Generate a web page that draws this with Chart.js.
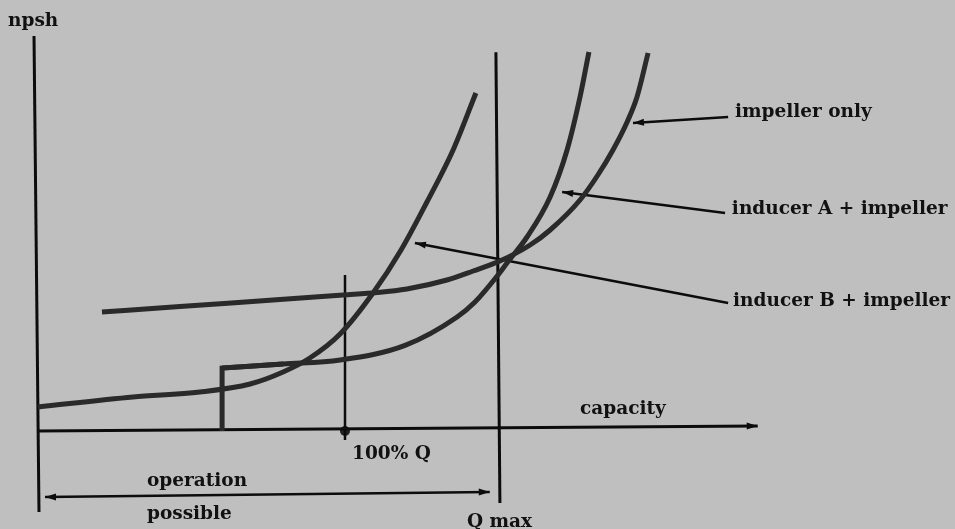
<!DOCTYPE html>
<html><head><meta charset="utf-8">
<script src="https://cdn.jsdelivr.net/npm/chart.js@4/dist/chart.umd.min.js"></script>
<style>html,body{margin:0;padding:0;background:#bfbfbf;}canvas{display:block;}</style>
</head><body>
<canvas id="c" width="955" height="529"></canvas>
<script>
// capacity in % of design flow (100% Q = design point), npsh in relative units
const capImpellerOnly  = [21.1, 46.4, 78.9, 99.4, 110.4, 120.1, 133.1, 141.6, 150.3, 160.1, 166.6, 176.3, 182.1, 187.0, 191.6, 194.8, 198.4];
const npshImpellerOnly = [29.75, 31.1, 32.9, 34.0, 34.6, 35.5, 37.75, 40.0, 42.5, 46.5, 50.25, 57.75, 64.0, 70.25, 77.25, 83.5, 94.5];

const capInducerA  = [60.1, 79.9, 98.4, 119.5, 136.4, 142.2, 149.4, 152.6, 159.1, 166.6, 172.1, 176.3, 179.2];
const npshInducerA = [15.75, 16.75, 17.75, 21.4, 28.5, 32.25, 38.75, 42.0, 48.5, 58.5, 70.25, 83.5, 94.75];

const capInducerB  = [0.3, 31.2, 52.9, 69.2, 79.9, 88.6, 98.4, 109.1, 118.2, 126.6, 135.1, 142.5];
const npshInducerB = [6.0, 8.5, 9.75, 11.75, 14.75, 18.25, 24.25, 34.5, 45.25, 57.25, 70.25, 84.5];

const designQ = 100;   // 100% Q
const qMax = 150;      // Q max
const seriesNames = ['impeller only', 'inducer A + impeller', 'inducer B + impeller'];

const zip = (xs, ys) => xs.map((x, i) => ({x, y: ys[i]}));

const CURVE = '#2a2a2a', INK = '#0c0c0c';
const curve = (label, data) => ({label, data, borderColor: CURVE, borderWidth: 5, pointRadius: 0,
  cubicInterpolationMode: 'monotone', borderCapStyle: 'butt', fill: false});
const seg = (data, w, extra) => Object.assign({data, borderColor: INK, borderWidth: w, pointRadius: 0, tension: 0, fill: false, borderCapStyle: 'butt'}, extra || {});

const datasets = [
  curve(seriesNames[0], zip(capImpellerOnly, npshImpellerOnly)),
  curve(seriesNames[1], zip(capInducerA, npshInducerA)),
  Object.assign(curve('step', [{x: capInducerA[0], y: 0}, {x: capInducerA[0], y: npshInducerA[0]}, {x: capInducerA[1], y: npshInducerA[1]}]), {cubicInterpolationMode: 'default', tension: 0, borderJoinStyle: 'miter'}),
  curve(seriesNames[2], zip(capInducerB, npshInducerB)),
  // axes
  seg([{x: 0, y: 0}, {x: 234, y: 1.25}], 3, {arrow: 'end'}),
  seg([{x: 0.65, y: -20.25}, {x: -0.97, y: 98.75}], 3),
  // Q max and 100% Q markers
  seg([{x: qMax + 0.3, y: -18}, {x: qMax - 1, y: 94.7}], 3),
  seg([{x: designQ, y: -2.25}, {x: designQ, y: 39}], 2.5),
  {data: [{x: designQ, y: 0}], pointRadius: 5, pointBackgroundColor: '#222', pointBorderWidth: 0, showLine: false},
  // operation possible
  seg([{x: 2.6, y: -16.5}, {x: 147, y: -15.25}], 2.5, {arrow: 'both'}),
  // label leaders
  seg([{x: 224.4, y: 78.5}, {x: 193.5, y: 77}], 2.5, {arrow: 'end'}),
  seg([{x: 223.4, y: 54.5}, {x: 170.5, y: 59.75}], 2.5, {arrow: 'end'}),
  seg([{x: 224.4, y: 32}, {x: 122.7, y: 47}], 2.5, {arrow: 'end'})
];

const texts = [
  {t: 'npsh', x: -9.4, y: 101.25},
  {t: seriesNames[0], x: 226.6, y: 78.5},
  {t: seriesNames[1], x: 225.6, y: 54.25},
  {t: seriesNames[2], x: 226.0, y: 31.25},
  {t: 'capacity', x: 176.3, y: 4.25},
  {t: '100% Q', x: 102.3, y: -7},
  {t: 'operation', x: 35.7, y: -13.75},
  {t: 'possible', x: 35.7, y: -22},
  {t: 'Q max', x: 139.6, y: -24}
];

const bgPlugin = {id: 'bg', beforeDraw(c) {
  const ctx = c.ctx; ctx.save(); ctx.fillStyle = '#bfbfbf'; ctx.fillRect(0, 0, c.width, c.height); ctx.restore();
}};
const arrowPlugin = {id: 'arrows', afterDatasetsDraw(c) {
  const ctx = c.ctx;
  ctx.save(); ctx.fillStyle = INK;
  const head = (p, q) => {
    const a = Math.atan2(p.y - q.y, p.x - q.x), L = 11, W = 3.5;
    const bx = p.x - L * Math.cos(a), by = p.y - L * Math.sin(a);
    ctx.beginPath(); ctx.moveTo(p.x, p.y);
    ctx.lineTo(bx + W * Math.sin(a), by - W * Math.cos(a));
    ctx.lineTo(bx - W * Math.sin(a), by + W * Math.cos(a));
    ctx.closePath(); ctx.fill();
  };
  c.data.datasets.forEach((ds, i) => {
    if (!ds.arrow) return;
    const pts = c.getDatasetMeta(i).data;
    const n = pts.length;
    if (ds.arrow === 'end' || ds.arrow === 'both') head(pts[n - 1], pts[n - 2]);
    if (ds.arrow === 'both') head(pts[0], pts[1]);
  });
  ctx.restore();
}};
const textPlugin = {id: 'texts', afterDraw(c) {
  const ctx = c.ctx, xs = c.scales.x, ys = c.scales.y;
  ctx.save(); ctx.fillStyle = '#111'; ctx.font = 'bold 18.5px "DejaVu Serif"';
  ctx.textAlign = 'left'; ctx.textBaseline = 'alphabetic';
  texts.forEach(o => ctx.fillText(o.t, xs.getPixelForValue(o.x), ys.getPixelForValue(o.y)));
  ctx.restore();
}};

new Chart(document.getElementById('c'), {
  type: 'line',
  data: {datasets},
  options: {
    responsive: false, animation: false, events: [],
    layout: {padding: 0, autoPadding: false},
    plugins: {legend: {display: false}, tooltip: {enabled: false}},
    scales: {
      x: {type: 'linear', display: false, min: -12.01, max: 298.05},
      y: {type: 'linear', display: false, min: -24.5, max: 107.75}
    }
  },
  plugins: [bgPlugin, arrowPlugin, textPlugin]
});
</script>
</body></html>
